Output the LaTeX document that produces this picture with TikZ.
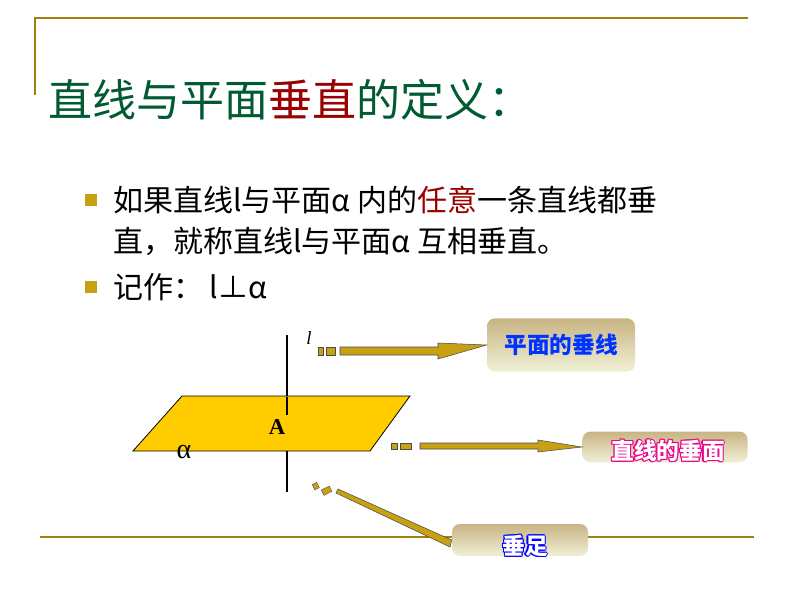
\documentclass[tikz,border=0pt]{standalone}
\usepackage{fontspec}
\setmainfont{Noto Sans CJK SC}
\newfontfamily\serifx{Liberation Serif}
\usetikzlibrary{arrows.meta,calc}
\definecolor{olive}{RGB}{200,160,20}
\definecolor{ttl}{RGB}{0,90,50}
\definecolor{gold}{RGB}{200,160,20}
\definecolor{plane}{RGB}{255,204,0}
\definecolor{boxtop}{RGB}{200,180,130}
\definecolor{boxbot}{RGB}{240,240,215}
\tikzset{
 frame/.style={draw=olive!80!black,line width=1pt},
 bul/.style={fill=olive,minimum size=9pt,inner sep=0pt},
 body/.style={anchor=west,font=\fontsize{22.5}{26}\selectfont,inner sep=0pt},
 lab/.style={rounded corners=6pt,top color=boxtop,bottom color=boxbot,draw=none},
 otl/.style={font=\bfseries\fontsize{17}{19}\selectfont,inner sep=0pt},
 garrow/.style={draw=black!70,fill=gold,line width=0.4pt},
}
\newcommand{\outl}[3]{%
 \foreach \dx/\dy in {-1.1/0,1.1/0,0/-1.1,0/1.1,-0.8/-0.8,0.8/0.8,-0.8/0.8,0.8/-0.8}
   {\node[otl,text=#2] at ($(#1)+(\dx,\dy)$) {#3};}
 \node[otl,text=white] at (#1) {#3};}
\begin{document}
\begin{tikzpicture}[x=0.75pt,y=-0.75pt]
\useasboundingbox (0,0) rectangle (794,596);
\fill[white] (0,0) rectangle (794,596);
\draw[frame] (35,95) -- (35,18) -- (748,18);
\draw[frame] (40,537) -- (754,537);
\node[anchor=west,inner sep=0pt,font=\fontsize{33}{37}\selectfont,text=ttl] (title) at (48,100) {直线与平面\textcolor{red!60!black}{垂直}的定义：};
\node[bul] (b1) at (91,200) {};
\node[bul] (b2) at (91,287) {};
\node[body] (t1) at (113,200) {如果直线l与平面α 内的\textcolor{red!60!black}{任意}一条直线都垂};
\node[body] (t2) at (113,241) {直，就称直线l与平面α 互相垂直。};
\node[body] (t3) at (113,287) {记作： l⊥α};
% plane
\draw[line width=1.2pt] (287,335) -- (287,400);
\filldraw[fill=plane,draw=black,line width=0.6pt] (182,396) -- (410,396) -- (370,451) -- (133,451) -- cycle;
\draw[line width=1.2pt] (287,397) -- (287,415);
\draw[line width=1.2pt] (287,451) -- (287,492);
\node[font=\serifx\bfseries\fontsize{17}{20}\selectfont] (A) at (277,427) {A};
\node[font=\serifx\fontsize{21}{24}\selectfont] (al) at (184,452) {α};
\node[font=\serifx\itshape\fontsize{14}{16}\selectfont] (l) at (309,338) {l};
% boxes
\node[lab,minimum width=111pt,minimum height=40pt,text=blue!80!cyan,font=\bfseries\fontsize{17}{19}\selectfont] (n1) at (561,345) {平面的垂线};
\node[lab,minimum width=124pt,minimum height=23pt] (n2) at (665,447) {};
\node[lab,minimum width=102pt,minimum height=24pt] (n3) at (520,540) {};
\coordinate (c2) at (668,451);
\coordinate (c3) at (525,546);
\outl{c2}{magenta}{直线的垂面}
\outl{c3}{blue}{垂足}
% arrows
\coordinate (s1) at (340,351);
\coordinate (s2) at (420,446);
\fill[gold,draw=black!70,line width=0.3pt] (318,347) rectangle (323,355) (326,347) rectangle (335,355);
\fill[gold,draw=black!70,line width=0.3pt] (391,443) rectangle (397,449) (400,443) rectangle (411,449);
\draw[garrow] (s1) ++(0,-4) -- ++(98,0) -- ++(0,-4) -- (n1.west) -- (438,359) -- ++(0,-4) -- ++(-98,0) -- cycle;
\draw[garrow] (s2) ++(0,-3) -- ++(118,0) -- ++(0,-3) -- (n2.west) -- (538,452) -- ++(0,-3) -- ++(-118,0) -- cycle;
\fill[gold,draw=black!70,line width=0.3pt,rotate around={27:(318,485)}] (313,482) rectangle (318,488);
\fill[gold,draw=black!70,line width=0.3pt,rotate around={27:(328,490)}] (322,487) rectangle (331,493);
\draw[garrow] (336,493) -- (338,489) -- (n3.west) -- (450,547) -- cycle;
\end{tikzpicture}
\end{document}
